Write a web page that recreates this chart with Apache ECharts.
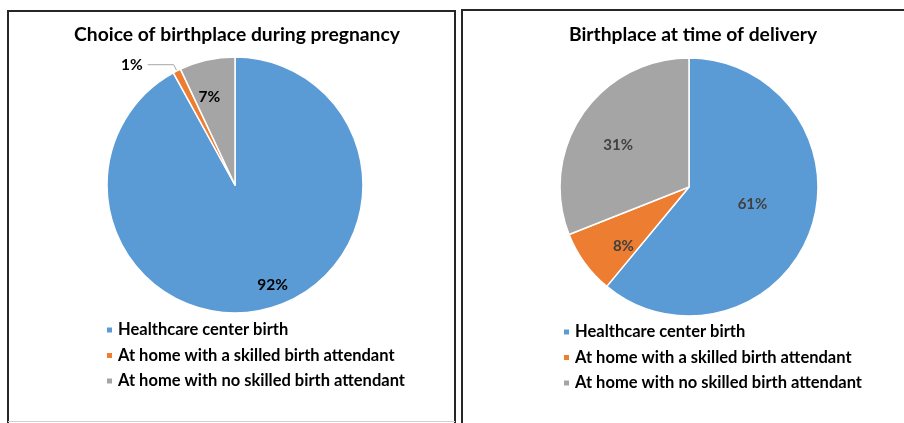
<!DOCTYPE html>
<html><head><meta charset="utf-8">
<script src="https://cdn.jsdelivr.net/npm/echarts@6/dist/echarts.min.js"></script>
<style>html,body{margin:0;padding:0;background:#fff;}#c{width:904px;height:423px;}</style>
</head><body><div id="c"></div>
<script>
const categories = ['Healthcare center birth', 'At home with a skilled birth attendant', 'At home with no skilled birth attendant'];
const pregnancyValues = [92, 1, 7];
const deliveryValues = [61, 8, 31];
const titles = ['Choice of birthplace during pregnancy', 'Birthplace at time of delivery'];

const colors = ['#5B9BD5', '#ED7D31', '#A5A5A5'];
const FONT = 'Lato, "Open Sans", sans-serif';
const pies = [
  {center: [235, 185], r: 128, shift: [[21, 35], null, [-11, -23]], labelColor: '#000', size: 15.5},
  {center: [689, 187], r: 129, shift: [[0, -6], [-11, 19], [-15, -4]], labelColor: '#404040', size: 15}
];

function mkData(vals, si) {
  return vals.map((v, i) => {
    const d = {name: categories[i], value: v};
    if (si === 0 && i === 1) {
      d.label = {position: 'outside'};
      d.labelLine = {show: true, length: 7, length2: 26, lineStyle: {color: '#A6A6A6', width: 1}};
    }
    return d;
  });
}

function mkSeries(vals, si) {
  const p = pies[si];
  return {
    type: 'pie', center: p.center, radius: p.r, startAngle: 90, clockwise: true,
    avoidLabelOverlap: false,
    itemStyle: {borderColor: '#fff', borderWidth: 1.5},
    label: {show: true, position: 'inside', formatter: '{c}%', fontFamily: FONT,
      fontSize: p.size, fontWeight: 'bold', color: p.labelColor},
    labelLine: {show: false},
    emphasis: {disabled: true},
    data: mkData(vals, si),
    labelLayout: function (params) {
      const s = p.shift[params.dataIndex];
      if (!s) return {};
      return {dx: s[0], dy: s[1]};
    }
  };
}

const chart = echarts.init(document.getElementById('c'), null, {renderer: 'canvas'});
const legendText = {fontFamily: FONT, fontSize: 16.5, fontWeight: 'bold', color: '#000', lineHeight: 19};
const titleText = {fontFamily: FONT, fontSize: 19.3, fontWeight: 'bold', color: '#000'};
chart.setOption({
  animation: false,
  color: colors,
  title: [
    {text: titles[0], left: 232, top: 20, textAlign: 'center', textStyle: titleText},
    {text: titles[1], left: 688, top: 20, textAlign: 'center', textStyle: titleText}
  ],
  legend: [
    {seriesIndex: 0, orient: 'vertical', left: 100, top: 315.5, icon: 'rect', itemWidth: 7, itemHeight: 7,
      itemGap: 6.5, textStyle: legendText, data: categories, selectedMode: false},
    {orient: 'vertical', left: 557, top: 317.5, icon: 'rect', itemWidth: 7, itemHeight: 7,
      itemGap: 6.5, textStyle: legendText, data: categories, selectedMode: false}
  ],
  graphic: [
    {type: 'rect', shape: {x: 8, y: 11, width: 447, height: 420}, style: {fill: 'none', stroke: '#262626', lineWidth: 2}},
    {type: 'line', shape: {x1: 8, y1: 421.5, x2: 455, y2: 421.5}, style: {stroke: '#D0D0D0', lineWidth: 1}},
    {type: 'rect', shape: {x: 462, y: 10, width: 460, height: 430}, style: {fill: 'none', stroke: '#262626', lineWidth: 2}}
  ],
  series: [mkSeries(pregnancyValues, 0), mkSeries(deliveryValues, 1)]
});
</script></body></html>
